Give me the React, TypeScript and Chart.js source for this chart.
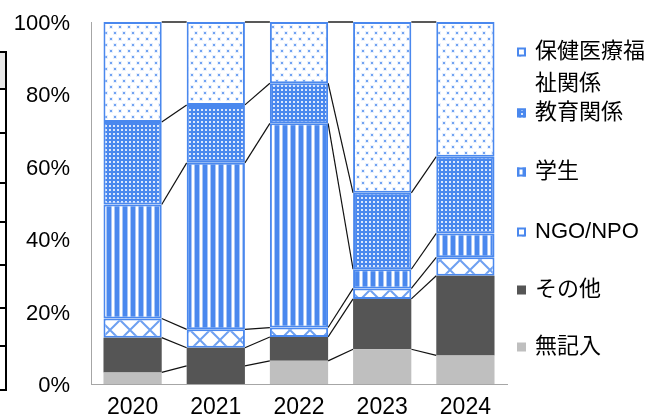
import React, { useEffect, useRef } from 'react';
import { Chart, registerables } from 'chart.js';
Chart.register(...registerables);

const categories = ['2020', '2021', '2022', '2023', '2024'];
const seriesNames = ['無記入', 'その他', 'NGO/NPO', '学生', '教育関係', '保健医療福祉関係'];
const mukinyu = [3.2, 5.0, 6.4, 9.6, 7.9];
const sonota = [9.6, 5.0, 6.6, 13.9, 22.0];
const ngo = [5.3, 5.1, 2.6, 2.9, 5.1];
const gakusei = [31.5, 46.0, 56.4, 5.3, 6.6];
const kyoiku = [22.8, 16.0, 11.1, 21.1, 21.2];
const hoken = [27.6, 22.9, 16.9, 47.2, 37.2];
const yTickStep = 20;

const FONT = "'Liberation Sans', 'Noto Sans CJK JP', sans-serif";
const BLUE = '#4a88ee';
const DARK = '#555555';
const LIGHT = '#bfbfbf';

function tile(w: number, h: number, draw: (c: CanvasRenderingContext2D) => void) {
  const c = document.createElement('canvas');
  c.width = w;
  c.height = h;
  const x = c.getContext('2d')!;
  draw(x);
  return c;
}

function makePatterns(ctx: CanvasRenderingContext2D) {
  const dots = tile(9, 12, (c) => {
    c.fillStyle = '#ffffff';
    c.fillRect(0, 0, 9, 12);
    c.fillStyle = 'rgba(74,136,238,0.12)';
    c.fillRect(1, 1, 4, 4);
    c.fillRect(5, 7, 4, 4);
    c.fillStyle = 'rgba(74,136,238,0.75)';
    c.fillRect(2, 2, 2, 2);
    c.fillRect(6, 8, 2, 2);
  });
  const grid = tile(4, 4, (c) => {
    c.fillStyle = BLUE;
    c.fillRect(0, 0, 4, 4);
    c.fillStyle = 'rgba(255,255,255,0.8)';
    c.fillRect(1, 1, 2, 2);
  });
  const stripes = tile(8, 4, (c) => {
    c.fillStyle = '#ffffff';
    c.fillRect(0, 0, 8, 4);
    c.fillStyle = '#a9c6f6';
    c.fillRect(2, 0, 1, 4);
    c.fillRect(7, 0, 1, 4);
    c.fillStyle = BLUE;
    c.fillRect(3, 0, 4, 4);
  });
  const diamonds = tile(20, 20, (c) => {
    c.fillStyle = '#ffffff';
    c.fillRect(0, 0, 20, 20);
    c.strokeStyle = 'rgba(74,136,238,0.8)';
    c.lineWidth = 2;
    c.beginPath();
    c.moveTo(-2, -2);
    c.lineTo(22, 22);
    c.moveTo(22, -2);
    c.lineTo(-2, 22);
    c.stroke();
  });
  return {
    dots: ctx.createPattern(dots, 'repeat')!,
    grid: ctx.createPattern(grid, 'repeat')!,
    stripes: ctx.createPattern(stripes, 'repeat')!,
    diamonds: ctx.createPattern(diamonds, 'repeat')!,
  };
}

const legendRows = [
  { ds: 5, lines: ['保健医療福', '祉関係'], y: 52 },
  { ds: 4, lines: ['教育関係'], y: 113 },
  { ds: 3, lines: ['学生'], y: 172 },
  { ds: 2, lines: ['NGO/NPO'], y: 232 },
  { ds: 1, lines: ['その他'], y: 290 },
  { ds: 0, lines: ['無記入'], y: 347 },
];

const tableLines = [52, 89, 133, 183, 222, 265, 308, 346, 390];

export default function App() {
  const ref = useRef<HTMLCanvasElement>(null);
  useEffect(() => {
    const canvas = ref.current!;
    const ctx = canvas.getContext('2d')!;
    const p = makePatterns(ctx);

    const seriesLines = {
      id: 'seriesLines',
      beforeDatasetsDraw(chart: any) {
        const c = chart.ctx;
        c.save();
        const n = chart.data.datasets.length;
        chart.data.datasets.forEach((_: any, i: number) => {
          const meta = chart.getDatasetMeta(i);
          for (let j = 0; j < meta.data.length - 1; j++) {
            const a = meta.data[j].getProps(['x', 'y', 'width'], true);
            const b = meta.data[j + 1].getProps(['x', 'y', 'width'], true);
            c.beginPath();
            c.strokeStyle = i === n - 1 ? '#595959' : '#111111';
            c.lineWidth = i === n - 1 ? 2 : 1.2;
            c.moveTo(a.x + a.width / 2, a.y);
            c.lineTo(b.x - b.width / 2, b.y);
            c.stroke();
          }
        });
        c.restore();
      },
    };

    const legendPlugin = {
      id: 'customLegend',
      afterDraw(chart: any) {
        const c = chart.ctx;
        c.save();
        legendRows.forEach((r) => {
          const ds = chart.data.datasets[r.ds];
          const bg = Array.isArray(ds.backgroundColor) ? ds.backgroundColor[0] : ds.backgroundColor;
          c.fillStyle = bg;
          c.fillRect(517, r.y - 4.5, 9, 9);
          if (ds.borderWidth) {
            c.strokeStyle = BLUE;
            c.lineWidth = 2;
            c.strokeRect(518, r.y - 3.5, 7, 7);
          }
          c.fillStyle = '#000000';
          c.font = `22px ${FONT}`;
          c.textBaseline = 'middle';
          c.textAlign = 'left';
          r.lines.forEach((t, k) => c.fillText(t, 535, r.y + k * 32));
        });
        c.restore();
      },
    };

    const values = [mukinyu, sonota, ngo, gakusei, kyoiku, hoken];
    const fills: any[] = [
      categories.map((_, i) => (i === 1 ? DARK : LIGHT)),
      DARK,
      p.diamonds,
      p.stripes,
      p.grid,
      p.dots,
    ];
    const borders = [0, 0, 2, 2, 2, 2];

    const chart = new Chart(canvas, {
      type: 'bar',
      data: {
        labels: categories,
        datasets: values.map((v, i) => ({
          label: seriesNames[i],
          data: v,
          backgroundColor: fills[i],
          borderColor: BLUE,
          borderWidth: borders[i],
          borderSkipped: false,
          categoryPercentage: 0.7,
          barPercentage: 1,
        })),
      },
      options: {
        responsive: false,
        animation: false,
        devicePixelRatio: 1,
        layout: { padding: { top: 22, right: 146, left: 0, bottom: 0 } },
        plugins: { legend: { display: false }, tooltip: { enabled: false } },
        scales: {
          x: {
            stacked: true,
            grid: { display: false, drawTicks: false, tickLength: 0 },
            border: { display: true, color: '#a6a6a6', width: 1 },
            ticks: { color: '#000', font: { family: FONT, size: 23 }, padding: 10 },
            afterFit: (s: any) => { s.height = 30; s.paddingLeft = 0; s.paddingRight = 0; },
          },
          y: {
            stacked: true,
            min: 0,
            max: 100,
            grid: { display: false, drawTicks: false, tickLength: 0 },
            border: { display: true, color: '#a6a6a6', width: 1 },
            ticks: {
              stepSize: yTickStep,
              color: '#000',
              font: { family: FONT, size: 22 },
              padding: 21,
              labelOffset: 2,
              callback: (v: any) => `${v}%`,
            },
            afterFit: (s: any) => { s.width = 91; s.paddingTop = 0; s.paddingBottom = 0; },
          },
        },
      },
      plugins: [seriesLines, legendPlugin],
    });
    return () => chart.destroy();
  }, []);

  return (
    <div style={{ position: 'fixed', left: 0, top: 0, width: 653, height: 414, background: '#fff', overflow: 'hidden' }}>
      <div style={{ position: 'absolute', left: 0, top: tableLines[0], width: 7, height: tableLines[1] - tableLines[0], background: '#e8e8e8' }} />
      {tableLines.map((y, i) => (
        <div key={i} style={{ position: 'absolute', left: 0, top: y - 1, width: 7, height: 2, background: '#000' }} />
      ))}
      <div style={{ position: 'absolute', left: 5, top: tableLines[0] - 1, width: 2, height: tableLines[tableLines.length - 1] - tableLines[0] + 2, background: '#000' }} />
      <canvas ref={ref} width={653} height={414} style={{ position: 'absolute', left: 0, top: 0, display: 'block' }} />
    </div>
  );
}
